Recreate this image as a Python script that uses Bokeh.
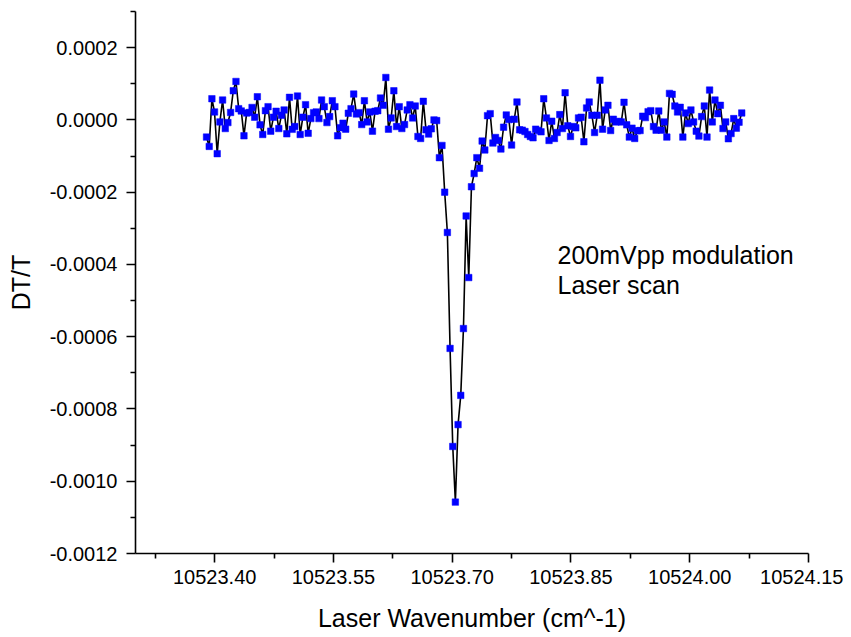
from bokeh.plotting import figure
from bokeh.models import FixedTicker, PrintfTickFormatter, Label, Range1d, ColumnDataSource
from bokeh.embed import file_html
from bokeh.resources import INLINE

# Laser wavenumber (cm^-1) of each scan point
wavenumber = [
    10523.3897, 10523.3931, 10523.3965, 10523.3998, 10523.4032,
    10523.4066, 10523.4100, 10523.4134, 10523.4167, 10523.4201,
    10523.4235, 10523.4269, 10523.4303, 10523.4336, 10523.4370,
    10523.4404, 10523.4438, 10523.4472, 10523.4505, 10523.4539,
    10523.4573, 10523.4607, 10523.4641, 10523.4674, 10523.4708,
    10523.4742, 10523.4776, 10523.4810, 10523.4843, 10523.4877,
    10523.4911, 10523.4945, 10523.4979, 10523.5012, 10523.5046,
    10523.5080, 10523.5114, 10523.5148, 10523.5181, 10523.5215,
    10523.5249, 10523.5283, 10523.5317, 10523.5350, 10523.5384,
    10523.5418, 10523.5452, 10523.5486, 10523.5519, 10523.5553,
    10523.5587, 10523.5621, 10523.5655, 10523.5688, 10523.5722,
    10523.5756, 10523.5790, 10523.5824, 10523.5857, 10523.5891,
    10523.5925, 10523.5959, 10523.5993, 10523.6026, 10523.6060,
    10523.6094, 10523.6128, 10523.6162, 10523.6195, 10523.6229,
    10523.6263, 10523.6297, 10523.6331, 10523.6364, 10523.6398,
    10523.6432, 10523.6466, 10523.6500, 10523.6533, 10523.6567,
    10523.6601, 10523.6635, 10523.6669, 10523.6702, 10523.6736,
    10523.6770, 10523.6804, 10523.6838, 10523.6871, 10523.6905,
    10523.6939, 10523.6973, 10523.7007, 10523.7040, 10523.7074,
    10523.7108, 10523.7142, 10523.7176, 10523.7209, 10523.7243,
    10523.7277, 10523.7311, 10523.7345, 10523.7378, 10523.7412,
    10523.7446, 10523.7480, 10523.7514, 10523.7547, 10523.7581,
    10523.7615, 10523.7649, 10523.7683, 10523.7716, 10523.7750,
    10523.7784, 10523.7818, 10523.7852, 10523.7885, 10523.7919,
    10523.7953, 10523.7987, 10523.8021, 10523.8054, 10523.8088,
    10523.8122, 10523.8156, 10523.8190, 10523.8223, 10523.8257,
    10523.8291, 10523.8325, 10523.8359, 10523.8392, 10523.8426,
    10523.8460, 10523.8494, 10523.8528, 10523.8561, 10523.8595,
    10523.8629, 10523.8663, 10523.8697, 10523.8730, 10523.8764,
    10523.8798, 10523.8832, 10523.8866, 10523.8899, 10523.8933,
    10523.8967, 10523.9001, 10523.9035, 10523.9068, 10523.9102,
    10523.9136, 10523.9170, 10523.9204, 10523.9237, 10523.9271,
    10523.9305, 10523.9339, 10523.9373, 10523.9406, 10523.9440,
    10523.9474, 10523.9508, 10523.9542, 10523.9575, 10523.9609,
    10523.9643, 10523.9677, 10523.9711, 10523.9744, 10523.9778,
    10523.9812, 10523.9846, 10523.9880, 10523.9913, 10523.9947,
    10523.9981, 10524.0015, 10524.0049, 10524.0082, 10524.0116,
    10524.0150, 10524.0184, 10524.0218, 10524.0251, 10524.0285,
    10524.0319, 10524.0353, 10524.0387, 10524.0420, 10524.0454,
    10524.0488, 10524.0522, 10524.0556, 10524.0589, 10524.0623,
    10524.0657,
]

# DT/T in units of 1e-5
dt_t_e5 = [
    -4.76, -7.34, 5.86, 2.20, -9.35, -0.55, 5.50, -2.39, -0.74, 2.06,
    8.06, 10.64, 3.11, 2.47, -4.40, 1.92, 2.06, 3.44, 0.74, 6.41,
    -1.37, -4.04, 2.56, 3.66, -3.11, 0.74, 2.39, -2.39, 1.29, 2.75,
    -3.85, 6.24, -2.61, -1.84, 6.60, -4.04, 0.74, 4.21, -3.71, 0.36,
    2.01, 2.20, 0.36, 5.50, 3.66, -0.74, 0.91, 5.31, 3.66, -4.40,
    -2.20, -0.91, -2.56, 1.84, 3.11, 7.15, 1.65, 2.01, -1.29, 5.31,
    -0.55, 2.20, -3.11, 2.39, 2.56, 6.05, 4.04, 11.74, -2.56, 0.55,
    8.06, -1.84, 3.66, -2.39, -1.29, 2.75, 4.21, 0.55, 3.85, -4.59,
    -5.14, 5.14, -2.75, -3.93, -2.47, 0.00, -0.19, -10.45, -7.07, -19.99,
    -31.15, -63.24, -90.38, -105.77, -84.33, -76.24, -57.74, -26.59, -43.63, -18.50,
    -14.85, -10.45, -13.39, -5.86, -8.33, 1.18, 1.73, -6.41, -4.87, -5.69,
    -8.06, -2.01, 1.37, 0.08, -6.96, 0.19, 4.95, -2.75, -2.83, -3.22,
    -4.04, -4.59, -4.95, -2.56, -2.94, -3.30, 5.86, 0.55, -5.69, -0.36,
    -5.14, -3.49, 1.46, -2.39, 7.51, -1.65, -4.59, -1.84, -2.20, 0.55,
    0.74, -6.05, 3.30, 4.95, 1.29, -3.49, 1.29, 11.00, -2.56, 2.75,
    4.04, -2.94, 0.19, -0.55, -0.41, -0.55, 4.87, -1.37, -4.76, -2.28,
    -5.14, -3.02, -2.94, 1.02, 0.63, 2.28, 2.56, -1.84, -2.83, 2.47,
    -2.83, -0.55, -4.76, 7.34, 7.07, 3.85, 2.20, 3.49, -4.76, 1.92,
    -1.02, 2.75, -0.55, -3.11, -4.48, 0.91, 3.85, -4.76, 8.25, -0.55,
    5.50, 1.73, 4.04, -2.39, -0.55, -5.22, -3.77, 0.36, -2.28, -0.63,
    1.92,
]
dt_t = [v * 1e-5 for v in dt_t_e5]

x_major_ticks = [10523.40, 10523.55, 10523.70, 10523.85, 10524.00, 10524.15]
x_minor_ticks = [10523.325, 10523.475, 10523.625, 10523.775, 10523.925, 10524.075]
y_major_ticks = [0.0002, 0.0, -0.0002, -0.0004, -0.0006, -0.0008, -0.0010, -0.0012]
y_minor_ticks = [0.0003, 0.0001, -0.0001, -0.0003, -0.0005, -0.0007, -0.0009, -0.0011]

annotation_lines = ["200mVpp modulation", "Laser scan"]

FONT = "Liberation Sans"

p = figure(
    width=843, height=634,
    x_range=Range1d(10523.30, 10524.15),
    y_range=Range1d(-0.0012, 0.0003),
    output_backend="svg", toolbar_location=None,
    min_border_left=135, min_border_right=35,
    min_border_top=11, min_border_bottom=60,
)
p.outline_line_color = None
p.xgrid.visible = False
p.ygrid.visible = False
p.background_fill_color = "white"
p.border_fill_color = "white"

src = ColumnDataSource(dict(x=wavenumber, y=dt_t))
p.line("x", "y", source=src, line_color="black", line_width=1.6)
p.scatter("x", "y", source=src, marker="square", size=6.5,
          fill_color="#0000FF", line_color="#0000FF", line_width=0.5)

p.xaxis.ticker = FixedTicker(ticks=x_major_ticks, minor_ticks=x_minor_ticks)
p.yaxis.ticker = FixedTicker(ticks=y_major_ticks, minor_ticks=y_minor_ticks)
p.xaxis.formatter = PrintfTickFormatter(format="%.2f")
p.yaxis.formatter = PrintfTickFormatter(format="%.4f")

for ax in (p.xaxis[0], p.yaxis[0]):
    ax.axis_line_color = "black"
    ax.axis_line_width = 1.6
    ax.major_tick_line_color = "black"
    ax.major_tick_line_width = 1.6
    ax.minor_tick_line_color = "black"
    ax.minor_tick_line_width = 1.6
    ax.major_tick_in = 0
    ax.major_tick_out = 9
    ax.minor_tick_in = 0
    ax.minor_tick_out = 5
    ax.major_label_text_font = FONT
    ax.major_label_text_font_size = "20px"
    ax.major_label_text_color = "black"
    ax.axis_label_text_font = FONT
    ax.axis_label_text_font_size = "25px"
    ax.axis_label_text_font_style = "normal"
    ax.axis_label_text_color = "black"

p.xaxis.axis_label = "Laser Wavenumber (cm^-1)"
p.yaxis.axis_label = "DT/T"
p.xaxis.major_label_standoff = 7
p.yaxis.major_label_standoff = 9
p.xaxis.axis_label_standoff = 17
p.yaxis.axis_label_standoff = 12

p.add_layout(Label(x=10523.833, y=-0.000374, text=annotation_lines[0],
                   text_font=FONT, text_font_size="25px", text_baseline="middle",
                   text_color="black"))
p.add_layout(Label(x=10523.833, y=-0.000456, text=annotation_lines[1],
                   text_font=FONT, text_font_size="25px", text_baseline="middle",
                   text_color="black"))

open("out.html", "w").write(file_html(p, INLINE))
